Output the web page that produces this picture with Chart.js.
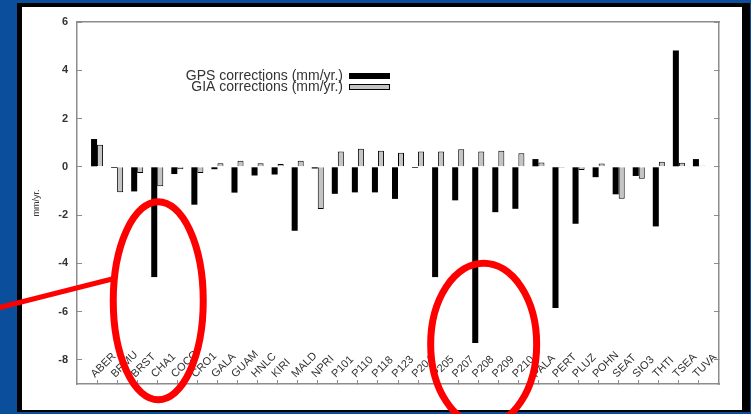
<!DOCTYPE html>
<html>
<head>
<meta charset="utf-8">
<title>GPS and GIA corrections</title>
<script src="https://cdn.jsdelivr.net/npm/chart.js@4"></script>
<style>
  html, body { margin: 0; padding: 0; }
  body { width: 751px; height: 414px; background: #0b4f9c; position: relative; overflow: hidden; }
  #frame { position: absolute; left: 17px; top: 3px; width: 720px; height: 403px; background: #fff;
           border-style: solid; border-color: #000; border-width: 4px 8px 2px 5px; }
  #chart { position: absolute; left: 0; top: 0; }
</style>
</head>
<body>
<div id="frame"></div>
<canvas id="chart" width="751" height="414"></canvas>
<script>
// Data
const CATEGORIES = ['ABER', 'BRMU', 'BRST', 'CHA1', 'COCO', 'CRO1', 'GALA', 'GUAM', 'HNLC', 'KIRI',
    'MALD', 'NPRI', 'P101', 'P110', 'P118', 'P123', 'P204', 'P205', 'P207', 'P208', 'P209', 'P210',
    'PALA', 'PERT', 'PLUZ', 'POHN', 'SEAT', 'SIO3', 'THTI', 'TSEA', 'TUVA'];
const GPS_CORRECTIONS = [1.15, -0.05, -1.02, -4.57, -0.30, -1.57, -0.10, -1.07, -0.36, -0.32,
    -2.65, -0.07, -1.12, -1.06, -1.06, -1.33, -0.05, -4.57, -1.39, -7.30, -1.88, -1.74,
    0.32, -5.85, -2.36, -0.43, -1.14, -0.38, -2.47, 4.82, 0.32];
const GIA_CORRECTIONS = [0.91, -1.05, -0.26, -0.81, -0.10, -0.26, 0.15, 0.25, 0.15, 0.12,
    0.25, -1.75, 0.63, 0.75, 0.66, 0.58, 0.63, 0.63, 0.73, 0.63, 0.66, 0.56,
    0.18, -0.04, -0.13, 0.14, -1.32, -0.50, 0.21, 0.17, 0.04];
const Y_TICKS = [-8, -6, -4, -2, 0, 2, 4, 6];

// Styles
const FONT = '"Liberation Sans", Arial, sans-serif';
const TEXT_COLOR = '#333';
const AXIS_GREY = '#8c8c8c';
const GIA_FILL = '#c4c4c4';

// Red slide annotations (in data units, radii in px)
const CIRCLES = [
    { x: 3.05, y: -5.55, rx: 45, ry: 99 },
    { x: 19.27, y: -7.35, rx: 53, ry: 81 }
];
const POINTER = [{ x: -5.2, y: -5.9 }, { x: 0.8, y: -4.64 }];

const toPoints = values => values.map((v, i) => ({ x: i, y: v }));
const fixedTicks = list => scale => { scale.ticks = list.map(v => ({ value: v })); };

// Rotated station names and the key inside the plot
const overlay = {
    id: 'overlay',
    afterDraw(chart) {
        const { ctx, chartArea, scales: { x } } = chart;
        ctx.save();
        ctx.fillStyle = TEXT_COLOR;
        ctx.font = '11px ' + FONT;
        ctx.textAlign = 'left';
        ctx.textBaseline = 'alphabetic';
        CATEGORIES.forEach((name, i) => {
            ctx.save();
            ctx.translate(x.getPixelForValue(i) - 2, chartArea.bottom - 6);
            ctx.rotate(-Math.PI / 4);
            ctx.fillText(name, 0, 0);
            ctx.restore();
        });

        ctx.font = '14px ' + FONT;
        ctx.textAlign = 'right';
        ctx.textBaseline = 'middle';
        chart.data.datasets.forEach((ds, i) => {
            const rowY = chartArea.top + 54 + i * 11;
            const boxX = chartArea.left + 272;
            ctx.fillStyle = TEXT_COLOR;
            ctx.fillText(ds.label, boxX - 6, rowY);
            ctx.fillStyle = ds.backgroundColor;
            ctx.fillRect(boxX, rowY - 3, 41, 6);
            if (ds.borderWidth) {
                ctx.strokeStyle = ds.borderColor;
                ctx.lineWidth = 1;
                ctx.strokeRect(boxX + 0.5, rowY - 2.5, 40, 5);
            }
        });
        ctx.restore();
    }
};

const annotations = {
    id: 'annotations',
    afterDraw(chart) {
        const { ctx, scales: { x, y } } = chart;
        ctx.save();
        ctx.strokeStyle = '#ff0000';
        ctx.lineWidth = 7;
        CIRCLES.forEach(c => {
            ctx.beginPath();
            ctx.ellipse(x.getPixelForValue(c.x), y.getPixelForValue(c.y), c.rx, c.ry, 0, 0, Math.PI * 2);
            ctx.stroke();
        });
        ctx.lineWidth = 5;
        ctx.beginPath();
        ctx.moveTo(x.getPixelForValue(POINTER[0].x), y.getPixelForValue(POINTER[0].y));
        ctx.lineTo(x.getPixelForValue(POINTER[1].x), y.getPixelForValue(POINTER[1].y));
        ctx.stroke();
        ctx.restore();
    }
};

const ctx = document.getElementById('chart').getContext('2d');
const correctionsChart = new Chart(ctx, {
    type: 'bar',
    data: {
        datasets: [
            {
                label: 'GPS corrections (mm/yr.)',
                data: toPoints(GPS_CORRECTIONS),
                backgroundColor: '#000',
                borderWidth: 0
            },
            {
                label: 'GIA corrections (mm/yr.)',
                data: toPoints(GIA_CORRECTIONS),
                backgroundColor: GIA_FILL,
                borderColor: '#000',
                borderWidth: 1
            }
        ]
    },
    options: {
        responsive: false,
        animation: false,
        devicePixelRatio: 1,
        categoryPercentage: 0.6,
        barPercentage: 1.0,
        layout: { padding: { top: 22, left: 0, right: 0, bottom: 0 } },
        plugins: { legend: { display: false }, tooltip: { enabled: false } },
        scales: {
            x: {
                type: 'linear',
                min: -1,
                max: 31,
                offset: false,
                afterFit: s => { s.height = 30; },
                afterBuildTicks: fixedTicks(CATEGORIES.map((c, i) => i)),
                grid: { offset: false, drawOnChartArea: false, tickLength: -4, color: AXIS_GREY },
                border: { color: AXIS_GREY, width: 1.5 },
                ticks: { display: false }
            },
            xTop: {
                type: 'linear',
                position: 'top',
                min: -1,
                max: 31,
                offset: false,
                afterFit: s => { s.height = 0; },
                grid: { display: false },
                border: { color: AXIS_GREY, width: 1.5 },
                ticks: { display: false }
            },
            y: {
                min: -9,
                max: 6,
                afterFit: s => { s.width = 77; },
                afterBuildTicks: fixedTicks(Y_TICKS),
                grid: { drawOnChartArea: false, tickLength: -5, color: AXIS_GREY },
                border: { color: AXIS_GREY, width: 1.5 },
                ticks: { padding: 14, color: TEXT_COLOR, font: { family: FONT, size: 11, weight: 'bold' } },
                title: {
                    display: true,
                    text: 'mm/yr.',
                    color: TEXT_COLOR,
                    padding: { top: 31, bottom: 0 },
                    font: { family: FONT, size: 9 }
                }
            },
            y2: {
                position: 'right',
                min: -9,
                max: 6,
                afterFit: s => { s.width = 32; },
                afterBuildTicks: fixedTicks(Y_TICKS),
                grid: { drawOnChartArea: false, tickLength: -5, color: AXIS_GREY },
                border: { color: AXIS_GREY, width: 1.5 },
                ticks: { display: false }
            }
        }
    },
    plugins: [overlay, annotations]
});
</script>
</body>
</html>
